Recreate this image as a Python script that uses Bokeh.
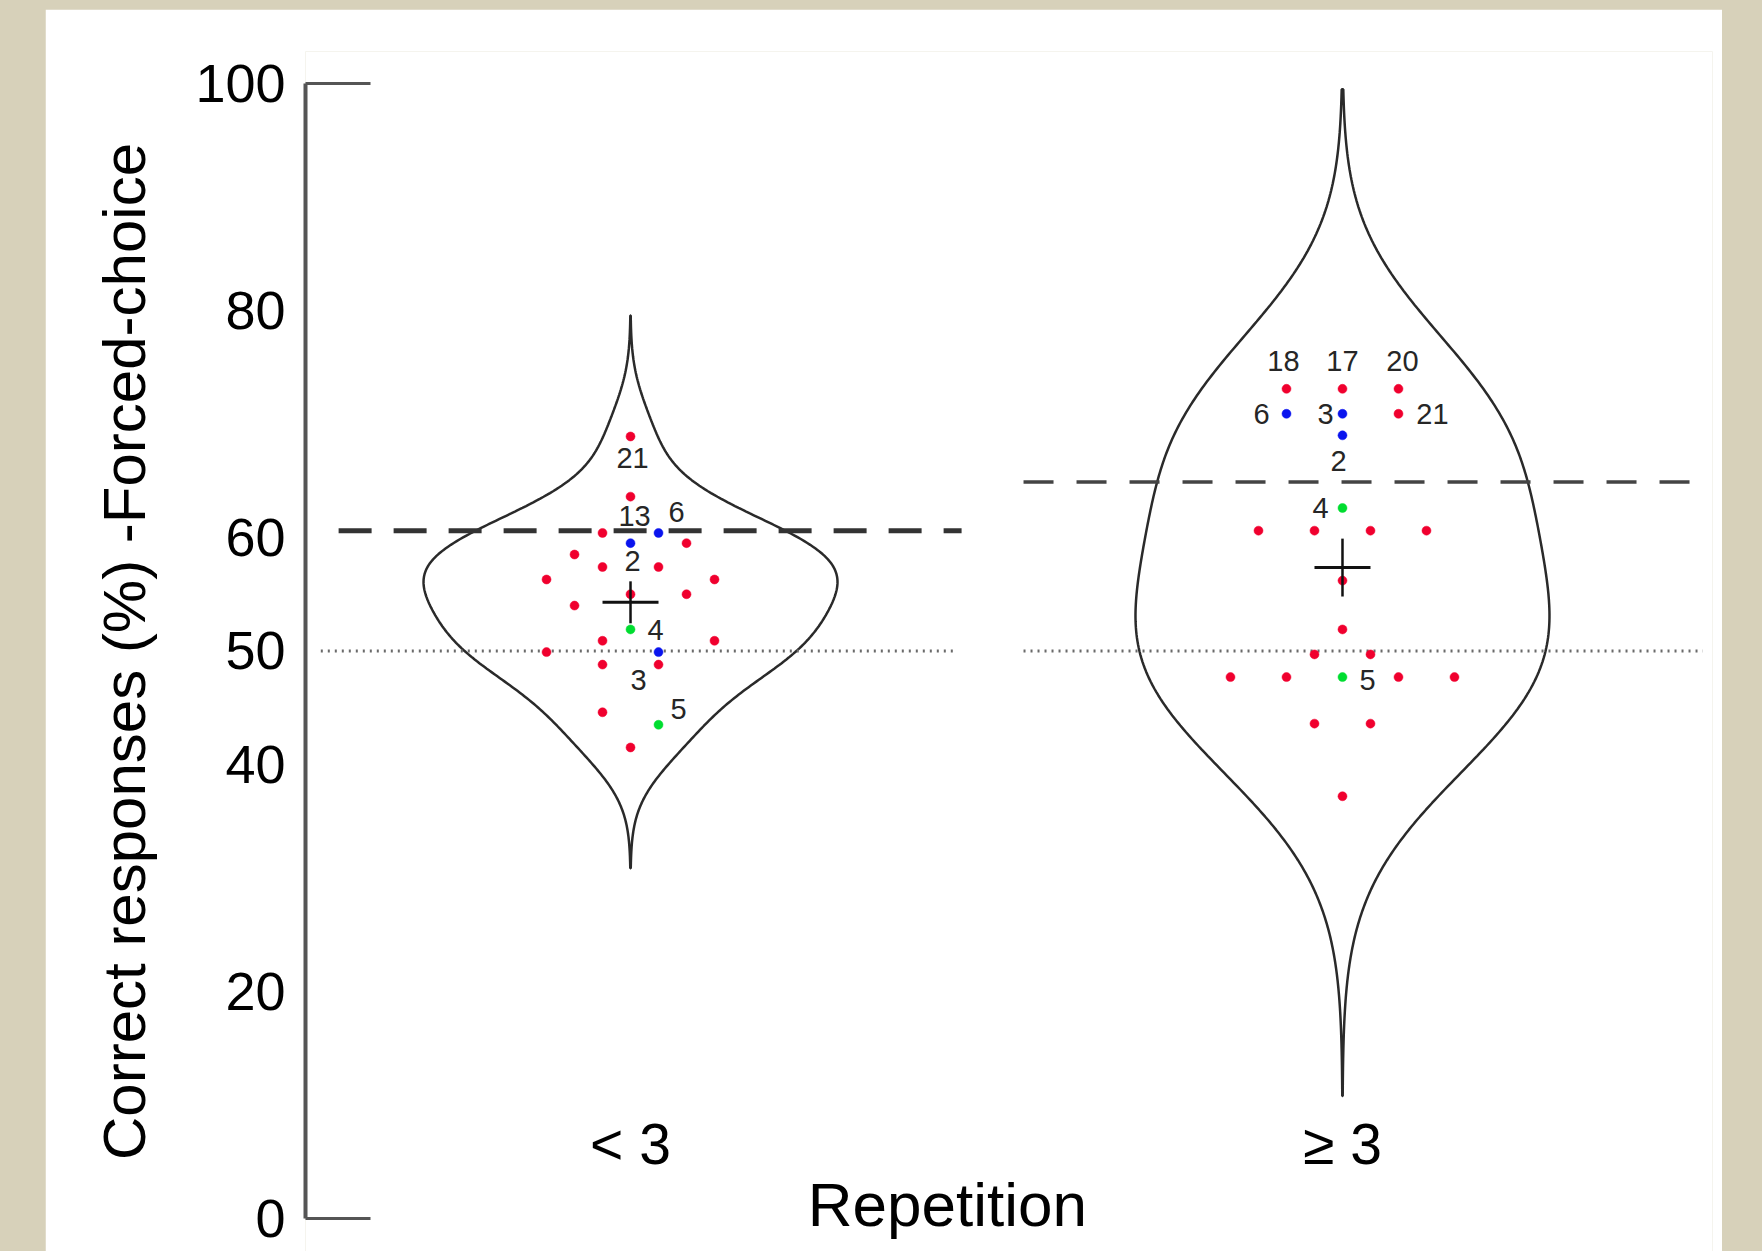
import numpy as np
from bokeh.plotting import figure
from bokeh.models import Range1d, FixedTicker, ColumnDataSource, LinearAxis, GlobalInlineStyleSheet
from bokeh.core.properties import value
from bokeh.embed import file_html
from bokeh.resources import INLINE

# ---------------- data ----------------
categories = ["< 3", "\u2265 3"]
y_ticks = [0, 20, 40, 50, 60, 80, 100]
y_title = "Correct responses (%) -Forced-choice"
x_title = "Repetition"

# "< 3" group: % correct per subject, swarm slot, colour group
lt_values = [68.9, 63.6, 60.4, 60.4, 59.5, 59.5, 58.5, 57.4, 57.4, 56.3, 56.3, 55.0,
             55.0, 54.0, 51.9, 50.9, 50.9, 49.9, 49.9, 48.8, 48.8, 44.6, 43.5, 41.5]
lt_slots = [0, 0, -1, 1, 0, 2, -2, -1, 1, -3, 3, 0, 2, -2, 0, -1, 3, -3, 1, -1, 1, -1, 1, 0]
lt_groups = ["r", "r", "r", "b", "b", "r", "r", "r", "r", "r", "r", "r",
             "r", "r", "g", "r", "r", "r", "b", "r", "r", "r", "g", "r"]
lt_label_idx = [0, 1, 3, 4, 14, 18, 22]
lt_label_txt = ["21", "13", "6", "2", "4", "3", "5"]

# ">= 3" group
rt_values = [73.1, 73.1, 73.1, 70.9, 70.9, 70.9, 69.0, 62.6, 60.6, 60.6, 60.6, 60.6,
             56.2, 51.9, 49.7, 49.7, 47.7, 47.7, 47.7, 47.7, 47.7, 43.6, 43.6, 37.2]
rt_slots = [-2, 0, 2, -2, 0, 2, 0, 0, -3, -1, 1, 3, 0, 0, -1, 1, -4, -2, 0, 2, 4, -1, 1, 0]
rt_groups = ["r", "r", "r", "b", "b", "r", "b", "g", "r", "r", "r", "r",
             "r", "r", "r", "r", "r", "r", "g", "r", "r", "r", "r", "r"]
rt_label_idx = [0, 1, 2, 3, 4, 5, 6, 7, 18]
rt_label_txt = ["18", "17", "20", "6", "3", "21", "2", "4", "5"]

violin_bw = [3.55, 8.8]       # kernel bandwidth of each violin (fitted to the outline)
thresholds = [60.6, 64.9]     # dashed lines
chance = 50                   # dotted line
cross_err = [1.85, 2.55]      # vertical bar half-length of mean marker

# ---------------- styling / layout constants ----------------
FONT = "Liberation Sans"
PX = 712.0                      # pixels per x unit
SLOT = 28.0 / PX                # swarm slot width
HALF_W = 207.0 / PX             # violin max half width
COLORS = {"r": "#f0002e", "b": "#0a14ee", "g": "#00dd30"}


def kde_outline(vals, bw, n=300):
    vals = np.asarray(vals, dtype=float)
    grid = np.linspace(vals.min() - 3 * bw, vals.max() + 3 * bw, n)
    dens = np.exp(-0.5 * ((grid[:, None] - vals[None, :]) / bw) ** 2).sum(axis=1)
    return grid, dens / dens.max()


p = figure(width=1677, height=1242,
           x_range=Range1d(0.5435, 2.5197), y_range=Range1d(-2.91, 102.82),
           output_backend="svg", toolbar_location=None,
           min_border_left=260, min_border_top=42, min_border_bottom=0, min_border_right=10)
p.margin = (9, 0, 0, 45)
p.stylesheets = [GlobalInlineStyleSheet(css="html, body { margin:0; padding:0; background-color:#d7d1ba; }")]
p.background_fill_color = "white"
p.border_fill_color = "white"
p.outline_line_color = None
p.grid.visible = False

# y axis
ya = p.yaxis[0]
ya.bounds = (0, 100)
ya.ticker = FixedTicker(ticks=y_ticks, minor_ticks=[0, 100])
ya.major_tick_line_color = None
ya.major_tick_in = 0
ya.major_tick_out = 0
ya.minor_tick_in = 65
ya.minor_tick_out = 0
ya.minor_tick_line_color = "#555555"
ya.minor_tick_line_width = 3
ya.axis_line_color = "#555555"
ya.axis_line_width = 4
ya.major_label_standoff = 20
ya.major_label_text_font = FONT
ya.major_label_text_font_size = "54px"
ya.major_label_text_color = "black"
ya.axis_label = y_title
ya.axis_label_text_font = FONT
ya.axis_label_text_font_size = "60px"
ya.axis_label_text_font_style = "normal"
ya.axis_label_text_color = "black"
ya.axis_label_standoff = 34


def inner_xaxis(ax, ticks, labels, loc, size):
    ax.ticker = FixedTicker(ticks=ticks, minor_ticks=[])
    ax.major_label_overrides = dict(zip(ticks, labels))
    ax.fixed_location = loc
    ax.axis_line_color = None
    ax.major_tick_line_color = None
    ax.minor_tick_line_color = None
    ax.major_tick_out = 0
    ax.major_tick_in = 0
    ax.major_label_standoff = 5
    ax.major_label_text_font = FONT
    ax.major_label_text_font_size = size
    ax.major_label_text_color = "black"
    return ax


inner_xaxis(p.xaxis[0], [1, 2], categories, 9.8, "57px")
title_axis = inner_xaxis(LinearAxis(), [1.445], [x_title], 4.7, "62px")
p.add_layout(title_axis, "below")

# violins (gaussian density of each group's values)
for ci, vals in enumerate([lt_values, rt_values]):
    c = ci + 1
    vv, dd = kde_outline(vals, violin_bw[ci])
    xs = np.concatenate([c - dd * HALF_W, (c + dd * HALF_W)[::-1]])
    ys = np.concatenate([vv, vv[::-1]])
    p.patch(xs, ys, fill_color=None, line_color="#2a2a2a", line_width=2.5)

# reference lines
p.segment(x0=[0.565], x1=[1.454], y0=[chance], y1=[chance], line_color="#6a6a6a", line_width=3, line_dash="2 5")
p.segment(x0=[1.552], x1=[2.506], y0=[chance], y1=[chance], line_color="#6a6a6a", line_width=3, line_dash="2 5")
p.segment(x0=[0.590], x1=[1.465], y0=[thresholds[0]], y1=[thresholds[0]], line_color="#333333", line_width=5, line_dash="33 22")
p.segment(x0=[1.552], x1=[2.506], y0=[thresholds[1]], y1=[thresholds[1]], line_color="#444444", line_width=3.5, line_dash="30 23")

# points
lab_off = {
    0: [(2, 22), (4, 19), (18, -21), (2, 18), (25, 1), (-20, 28), (20, -16)],
    1: [(-3, -28), (0, -28), (4, -28), (-25, 0), (-17, 0), (34, 0), (-4, 26), (-22, 0), (25, 3)],
}
groups = [(lt_values, lt_slots, lt_groups, lt_label_idx, lt_label_txt),
          (rt_values, rt_slots, rt_groups, rt_label_idx, rt_label_txt)]
for ci, (vals, slots, grp, lidx, ltxt) in enumerate(groups):
    c = ci + 1
    xs = [c + s * SLOT for s in slots]
    src = ColumnDataSource(dict(x=xs, y=vals, color=[COLORS[g] for g in grp]))
    p.scatter("x", "y", source=src, size=9, fill_color="color", line_color="color", line_width=0.5)
    # mean marker
    m = float(np.mean(vals))
    p.segment(x0=[c - 28 / PX], x1=[c + 28 / PX], y0=[m], y1=[m], line_color="#111111", line_width=3)
    p.segment(x0=[c], x1=[c], y0=[m - cross_err[ci]], y1=[m + cross_err[ci]], line_color="#111111", line_width=2.5)
    # labels
    offs = lab_off[ci]
    lsrc = ColumnDataSource(dict(
        x=[xs[i] for i in lidx], y=[vals[i] for i in lidx], text=ltxt,
        xo=[o[0] for o in offs], yo=[o[1] for o in offs]))
    p.text("x", "y", text="text", source=lsrc, x_offset="xo", y_offset="yo",
           text_align="center", text_baseline="middle", text_font=value(FONT),
           text_font_size="29px", text_color="#262626")

open("out.html", "w").write(file_html(p, INLINE))
